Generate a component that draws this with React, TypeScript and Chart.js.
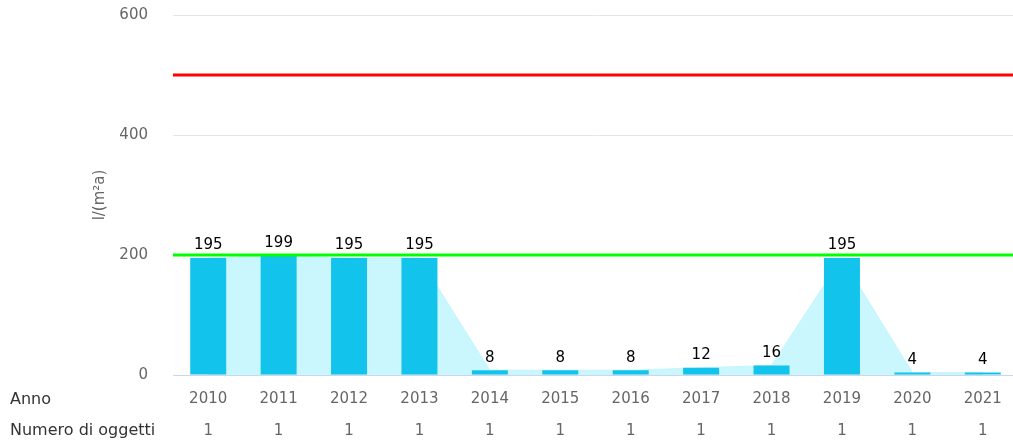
import React, { useEffect, useRef } from "react";
import { Chart, registerables } from "chart.js";

Chart.register(...registerables);

const years = ["2010", "2011", "2012", "2013", "2014", "2015", "2016", "2017", "2018", "2019", "2020", "2021"];
const values = [195, 199, 195, 195, 8, 8, 8, 12, 16, 195, 4, 4];
const objectCounts = ["1", "1", "1", "1", "1", "1", "1", "1", "1", "1", "1", "1"];
const yTicks = [0, 200, 400, 600];
const redLimit = 500;
const greenLimit = 200;
const yTitle = "l/(m²a)";
const rowLabels = ["Anno", "Numero di oggetti"];

const FONT = "'DejaVu Sans', sans-serif";
const CANVAS_W = 1018;
const CANVAS_H = 443;

export default function App() {
  const ref = useRef<HTMLCanvasElement | null>(null);

  useEffect(() => {
    document.body.style.margin = "0";
    document.body.style.overflow = "hidden";
    const canvas = ref.current!;
    const overlay = {
      id: "overlay",
      afterDatasetsDraw(chart: any) {
        const ctx = chart.ctx;
        const y = chart.scales.y;
        const area = chart.chartArea;
        ctx.save();
        [
          [redLimit, "#ff0000"],
          [greenLimit, "#00ff00"],
        ].forEach(([v, c]) => {
          const py = y.getPixelForValue(v as number);
          ctx.strokeStyle = c as string;
          ctx.lineWidth = 3;
          ctx.beginPath();
          ctx.moveTo(area.left, py);
          ctx.lineTo(area.right, py);
          ctx.stroke();
        });
        const meta = chart.getDatasetMeta(0);
        ctx.fillStyle = "#000000";
        ctx.font = `15px ${FONT}`;
        ctx.textAlign = "center";
        ctx.textBaseline = "bottom";
        meta.data.forEach((bar: any, i: number) => {
          ctx.fillText(String(values[i]), bar.x, bar.y - 5);
        });
        ctx.restore();
      },
      afterDraw(chart: any) {
        const ctx = chart.ctx;
        const area = chart.chartArea;
        ctx.save();
        ctx.font = `16px ${FONT}`;
        ctx.fillStyle = "#333333";
        ctx.textAlign = "left";
        ctx.textBaseline = "middle";
        ctx.fillText(rowLabels[0], 10, 400);
        ctx.fillText(rowLabels[1], 10, 431);
        ctx.font = `15px ${FONT}`;
        ctx.translate(100, (area.top + area.bottom) / 2);
        ctx.rotate(-Math.PI / 2);
        ctx.textAlign = "center";
        ctx.fillStyle = "#666666";
        ctx.fillText(yTitle, 0, 0);
        ctx.restore();
      },
    };

    const chart = new Chart(canvas, {
      type: "bar",
      data: {
        labels: years.map((y, i) => [y, objectCounts[i]]),
        datasets: [
          {
            type: "bar",
            data: values,
            backgroundColor: "#12c3eb",
            borderWidth: 0,
            barPercentage: 0.511,
            categoryPercentage: 1,
            order: 1,
          },
          {
            type: "line",
            data: values,
            borderColor: "#c4f5fc",
            backgroundColor: "#c9f7fd",
            borderWidth: 1,
            fill: "origin",
            pointRadius: 0,
            tension: 0,
            order: 2,
          } as any,
        ],
      },
      options: {
        animation: false,
        responsive: false,
        maintainAspectRatio: false,
        layout: { padding: { top: 15, right: 0, bottom: 0, left: 0 } },
        plugins: {
          legend: { display: false },
          tooltip: { enabled: false },
        },
        scales: {
          x: {
            grid: { display: false },
            border: { color: "#ccd6eb", width: 1 },
            ticks: {
              color: "#666666",
              font: { family: FONT, size: 15, lineHeight: 2.13 },
              padding: 0,
              maxRotation: 0,
              autoSkip: false,
            },
            afterFit(scale: any) {
              scale.height = 68;
              scale.paddingTop = 0;
              scale.paddingBottom = 0;
              scale.paddingLeft = 0;
              scale.paddingRight = 0;
            },
          },
          y: {
            min: 0,
            max: 600,
            afterBuildTicks(scale: any) {
              scale.ticks = yTicks.map((v) => ({ value: v }));
            },
            grid: { color: "#e6e6e6", drawTicks: false },
            border: { display: false },
            ticks: {
              color: "#666666",
              font: { family: FONT, size: 15 },
              padding: 25,
            },
            afterFit(scale: any) {
              scale.width = 173;
              scale.paddingTop = 0;
              scale.paddingBottom = 0;
            },
          },
        },
      },
      plugins: [overlay],
    });
    return () => chart.destroy();
  }, []);

  return (
    <div style={{ position: "absolute", left: 0, top: 0, width: 1013, height: 443, overflow: "hidden" }}>
      <canvas ref={ref} width={CANVAS_W} height={CANVAS_H} style={{ width: CANVAS_W, height: CANVAS_H }} />
    </div>
  );
}
